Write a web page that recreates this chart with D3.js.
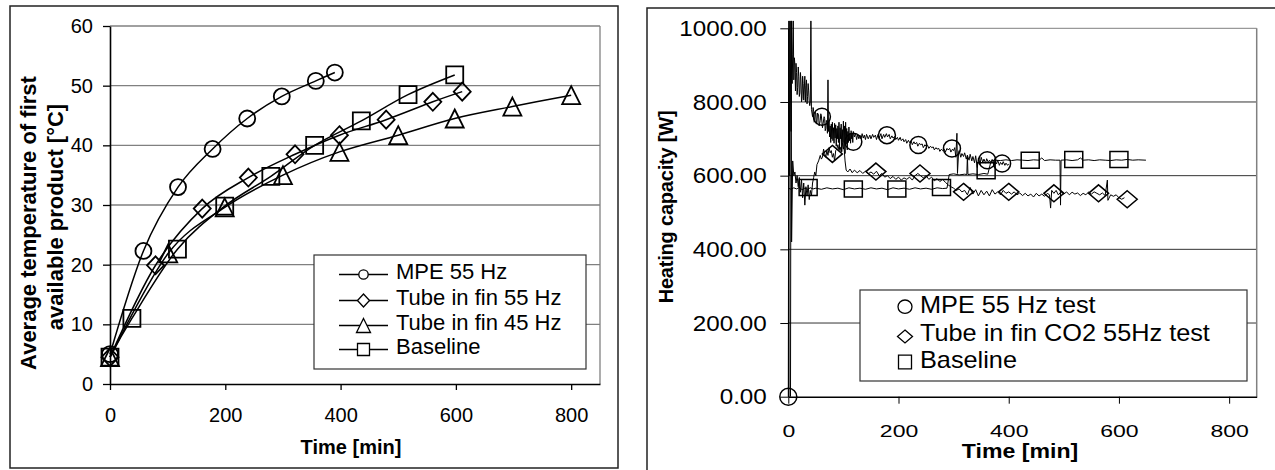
<!DOCTYPE html>
<html>
<head>
<meta charset="utf-8">
<script src="https://cdn.jsdelivr.net/npm/d3@7/dist/d3.min.js"></script>
<style>
body { margin: 0; background: #fff; }
svg { display: block; font-family: "Liberation Sans", Arial, sans-serif; }
</style>
</head>
<body>
<svg id="chart"></svg>
<script>
// ---- left chart: average temperature of first available product ----
const mpeTime = [0, 58, 118, 178, 238, 298, 357, 390];
const mpeTemp = [5, 22.3, 33, 39.4, 44.5, 48.2, 50.8, 52.2];
const fin55Time = [0, 79, 160, 240, 321, 398, 479, 560, 611];
const fin55Temp = [4.5, 19.9, 29.4, 34.6, 38.5, 41.7, 44.3, 47.3, 49];
const fin45Time = [0, 101, 199, 300, 398, 500, 598, 698, 800];
const fin45Temp = [4.5, 21.9, 29.6, 35, 38.9, 41.7, 44.5, 46.5, 48.4];
const baseTime = [0, 38, 117, 199, 279, 355, 436, 517, 598];
const baseTemp = [4.5, 11, 22.6, 29.8, 34.8, 40, 44.1, 48.5, 51.8];
const leftNames = ['MPE 55 Hz', 'Tube in fin 55 Hz', 'Tube in fin 45 Hz', 'Baseline'];
const leftYTicks = [0, 10, 20, 30, 40, 50, 60];
const leftXTicks = [0, 200, 400, 600, 800];

// ---- right chart: heating capacity, logged traces [min, W] ----
const mpeTrace = [[0,0],[1,1020],[2,600],[3,1020],[5,720],[6,1020],[7,850],[8,930],[9,1020],[10,860],[11,920],[12,900],[13,830],[14,905],[15,880],[16,820],[17,840],[18,895],[19,870],[20,815],[21,825],[22,880],[23,860],[24,800],[25,810],[26,870],[27,850],[28,805],[29,835],[30,870],[31,800],[32,845],[33,860],[34,795],[35,815],[36,850],[37,830],[38,800],[39,790],[40,800],[41,1020],[42,780],[43,770],[44,760],[45,785],[46,775],[47,745],[48,750],[49,772],[50,770],[51,740],[52,745],[53,770],[55,765],[56,735],[58,750],[59,768],[60,762],[62,730],[63,740],[65,760],[66,755],[67,722],[68,728],[69,750],[70,745],[71,715],[72,860],[73,720],[74,748],[75,705],[76,735],[77,690],[78,740],[79,700],[80,745],[81,695],[82,730],[83,688],[84,742],[85,702],[86,738],[87,680],[88,728],[89,700],[90,735],[91,690],[92,745],[93,672],[94,730],[95,700],[96,740],[97,665],[98,725],[99,690],[100,748],[101,680],[102,735],[103,660],[104,745],[105,685],[106,728],[107,670],[108,720],[109,690],[110,732],[111,695],[112,715],[113,688],[114,722],[115,700],[116,714],[117,690],[118,720],[120,705],[122,715],[124,698],[126,712],[128,700],[130,710],[132,700],[134,714],[136,702],[138,710],[140,698],[142,712],[145,700],[148,710],[150,700],[153,712],[155,704],[158,710],[160,698],[163,712],[165,702],[168,714],[170,700],[173,712],[175,704],[178,714],[180,705],[183,712],[185,700],[188,708],[190,702],[193,706],[195,698],[198,704],[200,696],[203,704],[205,695],[208,700],[210,692],[213,698],[215,688],[218,696],[220,690],[223,694],[225,684],[228,692],[230,686],[233,690],[235,680],[238,688],[240,684],[243,686],[245,676],[248,684],[250,680],[253,682],[255,674],[258,680],[260,676],[263,678],[265,670],[268,676],[270,672],[273,674],[275,666],[278,672],[280,668],[283,672],[285,664],[288,674],[290,670],[293,674],[295,664],[298,672],[300,668],[302,676],[304,650],[306,715],[307,606],[309,662],[310,668],[313,650],[315,660],[318,652],[320,662],[323,645],[325,655],[328,642],[330,658],[333,640],[335,652],[338,635],[340,654],[343,622],[345,648],[348,630],[350,650],[353,636],[355,645],[358,634],[360,646],[363,636],[365,642],[368,634],[370,644],[373,630],[375,640],[378,632],[380,642],[383,628],[385,636],[388,630],[390,638],[393,628],[395,634],[398,628],[400,632]];
const tubeTrace = [[4,0],[5,1020],[6,420],[8,640],[10,600],[12,610],[14,580],[16,600],[18,570],[20,595],[22,555],[24,590],[26,540],[28,580],[30,520],[32,570],[34,545],[36,575],[38,535],[40,560],[42,545],[44,580],[46,595],[48,610],[50,600],[52,630],[55,640],[58,655],[60,645],[62,650],[64,672],[66,660],[68,650],[70,668],[72,655],[74,676],[76,662],[78,668],[80,650],[82,660],[84,640],[86,668],[88,672],[90,684],[92,668],[94,678],[96,665],[98,690],[100,672],[101,680],[103,640],[105,615],[108,610],[112,618],[116,608],[120,615],[125,608],[130,614],[135,606],[140,612],[145,605],[150,610],[155,604],[160,612],[165,600],[170,606],[175,596],[180,600],[185,592],[190,598],[195,590],[200,596],[205,588],[210,594],[215,590],[220,596],[225,588],[230,600],[235,606],[240,600],[245,594],[250,600],[255,590],[260,596],[265,586],[270,592],[275,584],[280,590],[285,582],[290,575],[295,570],[300,566],[305,560],[310,564],[315,556],[320,560],[325,548],[330,568],[335,550],[340,562],[345,545],[350,560],[355,548],[360,558],[365,545],[370,562],[375,550],[380,556],[385,548],[390,560],[395,552],[400,556],[405,550],[410,556],[415,548],[420,553],[425,546],[430,552],[435,545],[440,550],[445,542],[450,552],[455,545],[460,550],[465,544],[470,552],[474,548],[476,512],[478,560],[482,552],[486,560],[490,548],[495,556],[500,550],[505,556],[510,548],[515,555],[520,550],[525,553],[530,546],[535,552],[540,548],[545,556],[550,550],[555,556],[560,552],[565,548],[570,553],[575,546],[579,588],[580,533],[585,548],[590,544],[595,548],[600,540],[605,536],[610,540]];
const baseTrace = [[0,566],[5,563],[10,567],[15,564],[20,568],[25,562],[30,566],[35,563],[40,567],[45,564],[50,566],[60,563],[70,567],[80,564],[90,566],[100,562],[110,567],[120,564],[130,566],[140,563],[150,567],[160,564],[170,566],[180,562],[190,567],[200,564],[210,566],[220,563],[230,567],[240,564],[250,566],[260,563],[270,567],[280,565],[288,566],[292,603],[300,605],[310,602],[320,604],[324,603],[325,655],[326,603],[335,605],[345,603],[355,606],[362,604],[368,640],[375,642],[385,641],[395,643],[405,641],[415,643],[425,642],[435,641],[445,643],[455,642],[460,648],[465,641],[475,643],[485,642],[493,642],[494,520],[495,642],[505,643],[515,641],[525,643],[530,648],[535,642],[545,643],[555,641],[565,643],[575,642],[585,641],[595,643],[605,642],[615,644],[625,642],[635,643],[649,642]];
// marker points of the three tests
const mpeMarkTime = [0, 61, 118, 179, 236, 297, 361, 388];
const mpeMarkCap = [0, 760, 692, 710, 683, 674, 642, 633];
const tubeMarkTime = [80, 159, 239, 318, 400, 482, 563, 615];
const tubeMarkCap = [659, 611, 606, 556, 556, 552, 552, 536];
const baseMarkTime = [36, 118, 197, 278, 359, 439, 518, 600];
const baseMarkCap = [568, 564, 564, 568, 613, 642, 644, 644];
const rightNames = ['MPE 55 Hz test', 'Tube in fin CO2 55Hz test', 'Baseline'];
const rightYTicks = [0, 200, 400, 600, 800, 1000];
const rightXTicks = [0, 200, 400, 600, 800];

const svg = d3.select('svg#chart')
    .attr('width', 1275)
    .attr('height', 470);

svg.append('rect').attr('width', 1275).attr('height', 470).attr('fill', '#fff');

// marker shapes centred on 0,0 (w/h = half width / half height)
function shapePath(shape, w, h) {
    if (shape === 'circle') return `M${-w},0A${w},${h} 0 1,0 ${w},0A${w},${h} 0 1,0 ${-w},0Z`;
    if (shape === 'diamond') return `M0,${-h}L${w},0L0,${h}L${-w},0Z`;
    if (shape === 'triangle') return `M0,${-h}L${w},${h}L${-w},${h}Z`;
    return `M${-w},${-h}H${w}V${h}H${-w}Z`;
}

// ================= LEFT =================
const left = svg.append('g');
left.append('rect')
    .attr('x', 10).attr('y', 6).attr('width', 608).attr('height', 462)
    .attr('fill', 'none').attr('stroke', '#222').attr('stroke-width', 1.5);

const xL = d3.scaleLinear().domain([0, 850]).range([110, 600]);
const yL = d3.scaleLinear().domain([0, 60]).range([384, 26]);

// grid + plot border
left.selectAll('line.grid')
    .data(leftYTicks.slice(1))
    .join('line')
    .attr('x1', xL(0)).attr('x2', xL(850))
    .attr('y1', d => yL(d)).attr('y2', d => yL(d))
    .attr('stroke', '#808080').attr('stroke-width', 1.3);
left.append('line')
    .attr('x1', xL(850)).attr('x2', xL(850)).attr('y1', yL(60)).attr('y2', yL(0))
    .attr('stroke', '#808080').attr('stroke-width', 1.3);

const axLY = left.append('g')
    .attr('transform', `translate(${xL(0)},0)`)
    .call(d3.axisLeft(yL).tickValues(leftYTicks).tickSize(7).tickSizeOuter(0).tickPadding(10));
const axLX = left.append('g')
    .attr('transform', `translate(0,${yL(0)})`)
    .call(d3.axisBottom(xL).tickValues(leftXTicks).tickSize(6).tickSizeOuter(0).tickPadding(18));
[axLY, axLX].forEach(a => {
    a.select('.domain').attr('stroke', '#000').attr('stroke-width', 1.6);
    a.selectAll('line').attr('stroke', '#000').attr('stroke-width', 1.3);
    a.selectAll('text').attr('font-size', 20).attr('fill', '#000')
        .attr('font-family', '"Liberation Sans", Arial, sans-serif');
});

left.append('text')
    .attr('x', 351).attr('y', 454)
    .attr('text-anchor', 'middle')
    .attr('font-weight', 'bold').attr('font-size', 20)
    .text('Time [min]');
left.append('text')
    .attr('transform', 'translate(36,223) rotate(-90)')
    .attr('text-anchor', 'middle')
    .attr('font-weight', 'bold').attr('font-size', 22)
    .text('Average temperature of first');
left.append('text')
    .attr('transform', 'translate(63,217) rotate(-90)')
    .attr('text-anchor', 'middle')
    .attr('font-weight', 'bold').attr('font-size', 22)
    .text('available product [°C]');

const leftSeries = [
    { t: mpeTime, v: mpeTemp, shape: 'circle', w: 8, h: 8, lw: 4.7, lh: 4.7 },
    { t: fin55Time, v: fin55Temp, shape: 'diamond', w: 8.5, h: 9, lw: 6, lh: 6.5 },
    { t: fin45Time, v: fin45Temp, shape: 'triangle', w: 9, h: 9, lw: 7, lh: 7 },
    { t: baseTime, v: baseTemp, shape: 'square', w: 8.5, h: 8.5, lw: 6, lh: 6 }
];

const smooth = d3.line()
    .x(d => xL(d[0]))
    .y(d => yL(d[1]))
    .curve(d3.curveCatmullRom.alpha(0));

leftSeries.forEach(s => {
    const pts = s.t.map((t, i) => [t, s.v[i]]);
    left.append('path')
        .attr('d', smooth(pts))
        .attr('fill', 'none').attr('stroke', '#000').attr('stroke-width', 1.5);
    left.selectAll(null)
        .data(pts)
        .join('path')
        .attr('transform', d => `translate(${xL(d[0])},${yL(d[1])})`)
        .attr('d', shapePath(s.shape, s.w, s.h))
        .attr('fill', 'none').attr('stroke', '#000').attr('stroke-width', 1.8);
});

// legend
const legL = left.append('g');
legL.append('rect')
    .attr('x', 314).attr('y', 255).attr('width', 272).attr('height', 114)
    .attr('fill', '#fff').attr('stroke', '#333').attr('stroke-width', 1.2);
const legLRows = [279, 305, 330, 354];
leftSeries.forEach((s, i) => {
    const cy = legLRows[i] - 4.5;
    legL.append('line')
        .attr('x1', 339).attr('x2', 388).attr('y1', cy).attr('y2', cy)
        .attr('stroke', '#000').attr('stroke-width', 1.5);
    legL.append('path')
        .attr('transform', `translate(363.5,${cy})`)
        .attr('d', shapePath(s.shape, s.lw, s.lh))
        .attr('fill', '#fff').attr('stroke', '#000').attr('stroke-width', 1.3);
    legL.append('text')
        .attr('x', 396).attr('y', legLRows[i])
        .attr('font-size', 22)
        .text(leftNames[i]);
});

// ================= RIGHT =================
const right = svg.append('g');
right.append('rect')
    .attr('x', 647).attr('y', 8).attr('width', 700).attr('height', 500)
    .attr('fill', 'none').attr('stroke', '#222').attr('stroke-width', 1.5);

const xR = d3.scaleLinear().domain([0, 850]).range([788.3, 1256.7]);
const yR = d3.scaleLinear().domain([0, 1000]).range([396.7, 28.3]);

right.selectAll('line.grid')
    .data(rightYTicks.slice(1))
    .join('line')
    .attr('x1', xR(0)).attr('x2', xR(850))
    .attr('y1', d => yR(d)).attr('y2', d => yR(d))
    .attr('stroke', d => d === 1000 ? '#808080' : '#333').attr('stroke-width', 1);
right.append('line')
    .attr('x1', xR(850)).attr('x2', xR(850)).attr('y1', yR(1000)).attr('y2', yR(0))
    .attr('stroke', '#808080').attr('stroke-width', 1.5);

const axRY = right.append('g')
    .attr('transform', `translate(${xR(0)},0)`)
    .call(d3.axisLeft(yR).tickValues(rightYTicks).tickFormat(d3.format('.2f'))
        .tickSize(8).tickSizeOuter(0).tickPadding(11.6));
const axRX = right.append('g')
    .attr('transform', `translate(0,${yR(0)})`)
    .call(d3.axisBottom(xR).tickValues(rightXTicks).tickSize(7).tickSizeOuter(0).tickPadding(26));
[axRY, axRX].forEach(a => {
    a.select('.domain').attr('stroke', '#000').attr('stroke-width', 1.5);
    a.selectAll('line').attr('stroke', '#000').attr('stroke-width', 1);
    a.selectAll('text').attr('fill', '#000')
        .attr('font-family', '"Liberation Sans", Arial, sans-serif');
});
axRY.selectAll('text').attr('font-size', 22).attr('transform', 'scale(1.1,1)');
// x labels in the reference are squat: wide and short
axRX.selectAll('text').attr('font-size', 20).attr('transform', 'scale(1.15,0.85)');

right.append('text')
    .attr('transform', 'translate(1020,458) scale(1.1,0.95)')
    .attr('text-anchor', 'middle')
    .attr('font-weight', 'bold').attr('font-size', 21)
    .text('Time [min]');
right.append('text')
    .attr('transform', 'translate(673,207) rotate(-90)')
    .attr('text-anchor', 'middle')
    .attr('font-weight', 'bold').attr('font-size', 20)
    .attr('letter-spacing', -0.2)
    .text('Heating capacity [W]');

const traceLine = d3.line()
    .x(d => xR(d[0]))
    .y(d => yR(d[1]));

[baseTrace, tubeTrace, mpeTrace].forEach(tr => {
    right.append('path')
        .attr('d', traceLine(tr))
        .attr('fill', 'none').attr('stroke', '#000').attr('stroke-width', 1);
});

const rightSeries = [
    { t: mpeMarkTime, v: mpeMarkCap, shape: 'circle', w: 8.5, h: 8.5, lw: 7, lh: 6.7 },
    { t: tubeMarkTime, v: tubeMarkCap, shape: 'diamond', w: 10, h: 8.5, lw: 7.5, lh: 6.5 },
    { t: baseMarkTime, v: baseMarkCap, shape: 'square', w: 9, h: 8, lw: 6.5, lh: 6.8 }
];
rightSeries.forEach(s => {
    right.selectAll(null)
        .data(s.t.map((t, i) => [t, s.v[i]]))
        .join('path')
        .attr('transform', d => `translate(${xR(d[0])},${yR(d[1])})`)
        .attr('d', shapePath(s.shape, s.w, s.h))
        .attr('fill', 'none').attr('stroke', '#000').attr('stroke-width', 1.5);
});

const legR = right.append('g');
legR.append('rect')
    .attr('x', 860).attr('y', 290).attr('width', 387).attr('height', 91)
    .attr('fill', '#fff').attr('stroke', '#333').attr('stroke-width', 1.2);
const legRRows = [313, 341, 368];
const legRMarks = [306.7, 336.5, 362];
rightSeries.forEach((s, i) => {
    legR.append('path')
        .attr('transform', `translate(905,${legRMarks[i]})`)
        .attr('d', shapePath(s.shape, s.lw, s.lh))
        .attr('fill', '#fff').attr('stroke', '#000').attr('stroke-width', 1.3);
    legR.append('text')
        .attr('transform', `translate(920,${legRRows[i]}) scale(1.1,1)`)
        .attr('font-size', 23)
        .text(rightNames[i]);
});
</script>
</body>
</html>
